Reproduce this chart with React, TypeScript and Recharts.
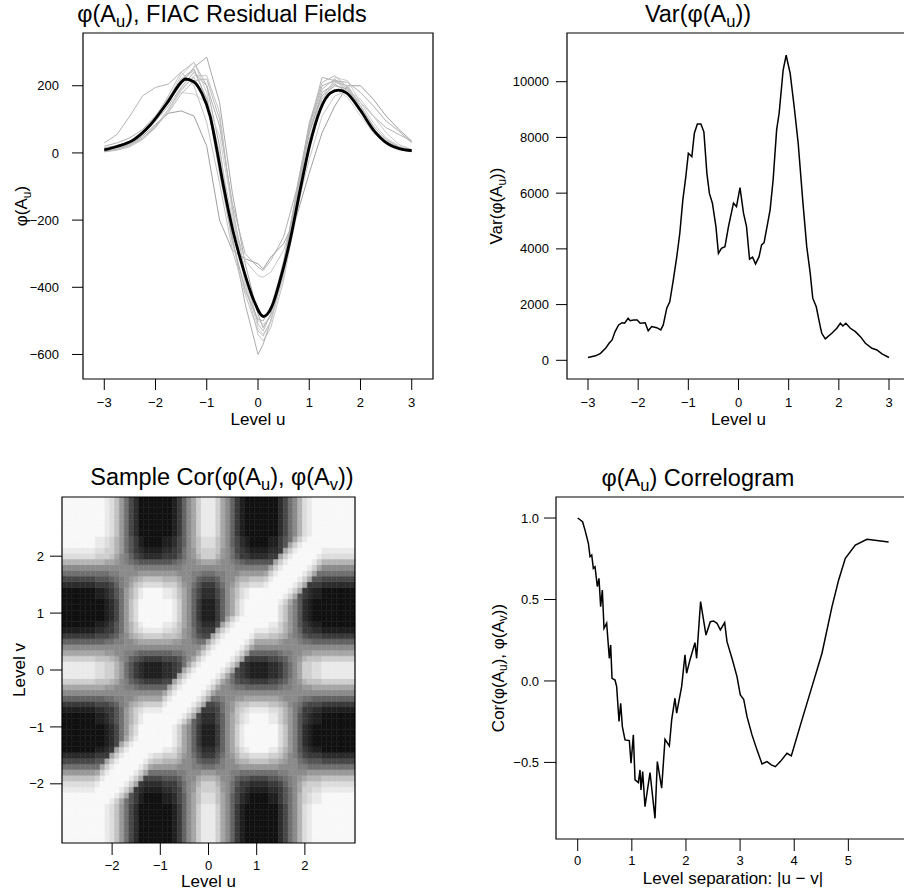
import React from 'react';
import { LineChart, Line, XAxis, YAxis, ReferenceArea } from 'recharts';

const FONT = '"Liberation Sans", Arial, Helvetica, sans-serif';
const MINUS = '\u2212';

const levelGrid = [-3, -2.75, -2.5, -2.25, -2, -1.75, -1.5, -1.25, -1, -0.75, -0.5, -0.25, 0, 0.1, 0.25, 0.5, 0.75, 1, 1.25, 1.5, 1.75, 2, 2.25, 2.5, 2.75, 3];

const residualFields = [
  [15, 22, 35, 60, 100, 150, 205, 255, 285, 150, -120, -330, -480, -520, -480, -330, -120, 60, 170, 200, 190, 140, 80, 40, 18, 8],
  [30, 55, 110, 170, 195, 205, 240, 270, 200, 80, -150, -300, -340, -350, -320, -250, -110, 80, 225, 215, 185, 150, 110, 75, 55, 35],
  [5, 10, 25, 50, 85, 118, 125, 110, 20, -200, -290, -315, -330, -345, -310, -270, -190, -60, 60, 140, 200, 200, 160, 110, 70, 35],
  [3, 8, 18, 40, 75, 125, 185, 230, 230, 120, -180, -390, -540, -560, -520, -380, -170, 40, 170, 215, 200, 140, 75, 30, 10, 3],
  [10, 18, 30, 55, 95, 140, 195, 240, 200, 20, -250, -450, -600, -570, -500, -360, -150, 60, 180, 205, 180, 125, 70, 35, 15, 5],
  [8, 15, 28, 55, 100, 160, 230, 270, 180, -40, -270, -400, -500, -510, -490, -370, -190, 10, 150, 225, 215, 150, 90, 45, 20, 10],
  [5, 12, 25, 45, 80, 130, 190, 225, 150, -20, -230, -370, -470, -490, -470, -340, -140, 70, 190, 220, 190, 125, 65, 30, 12, 5],
  [12, 20, 35, 65, 110, 165, 215, 245, 160, 0, -200, -320, -365, -370, -355, -290, -170, -20, 110, 170, 185, 160, 110, 60, 25, 10],
  [6, 14, 30, 60, 105, 150, 180, 175, 150, 50, -170, -380, -520, -540, -505, -360, -160, 30, 150, 190, 165, 110, 60, 28, 12, 4],
  [4, 10, 22, 42, 78, 120, 175, 215, 220, 100, -160, -360, -510, -530, -480, -320, -120, 90, 210, 230, 195, 130, 70, 30, 12, 4],
  [20, 30, 45, 70, 110, 160, 220, 250, 160, -60, -260, -410, -495, -500, -460, -330, -130, 80, 200, 215, 210, 180, 140, 95, 65, 30],
  [10, 18, 35, 60, 105, 170, 240, 200, 90, -90, -290, -420, -530, -545, -500, -350, -170, 20, 160, 210, 200, 140, 80, 40, 18, 8],
];
const fieldGreys = ['#a8a8a8', '#b4b4b4', '#a0a0a0', '#c4c4c4', '#adadad', '#cccccc', '#bdbdbd', '#c8c8c8', '#d2d2d2', '#bababa', '#b0b0b0', '#c2c2c2'];

const meanLevels = [-3, -2.753, -2.428, -2.103, -1.778, -1.453, -1.42, -1.257, -1.095, -0.932, -0.802, -0.672, -0.477, -0.282, -0.087, 0.108, 0.271, 0.433, 0.628, 0.823, 1.018, 1.213, 1.408, 1.571, 1.733, 1.993, 2.254, 2.514, 2.774, 3];
const meanValues = [9, 19, 39, 83, 148, 217, 220, 212, 177, 108, 9, -100, -239, -348, -437, -487, -457, -378, -259, -110, 29, 128, 178, 187, 178, 128, 68, 29, 12, 7];

// ---- top right: variance of phi(A_u)
const varLevels = [-3, -2.85, -2.75, -2.65, -2.58, -2.52, -2.46, -2.39, -2.32, -2.27, -2.2, -2.16, -2.09, -2.02, -1.96, -1.86, -1.8, -1.73, -1.63, -1.55, -1.5, -1.43, -1.37, -1.3, -1.23, -1.17, -1.11, -1.05, -1, -0.93, -0.88, -0.82, -0.75, -0.69, -0.63, -0.58, -0.52, -0.45, -0.4, -0.34, -0.27, -0.2, -0.1, -0.04, 0.03, 0.1, 0.16, 0.22, 0.28, 0.34, 0.41, 0.46, 0.51, 0.63, 0.69, 0.76, 0.81, 0.89, 0.95, 1.03, 1.11, 1.19, 1.28, 1.36, 1.43, 1.48, 1.55, 1.63, 1.66, 1.73, 1.86, 1.96, 2.03, 2.08, 2.14, 2.23, 2.33, 2.43, 2.53, 2.66, 2.76, 2.86, 3];
const varValues = [100, 160, 250, 430, 610, 730, 1030, 1270, 1350, 1330, 1510, 1420, 1450, 1450, 1330, 1350, 1060, 1210, 1170, 1090, 1270, 1870, 2100, 2880, 3720, 4560, 5750, 6590, 7430, 7310, 8150, 8480, 8480, 8200, 6710, 5990, 5640, 4800, 3840, 4020, 4080, 4800, 5640, 5520, 6200, 5280, 4800, 3630, 3700, 3460, 3720, 4140, 4220, 5400, 6470, 8270, 8870, 10420, 10950, 10300, 9100, 7790, 5750, 4080, 3120, 2230, 1920, 1210, 970, 770, 970, 1150, 1330, 1230, 1330, 1150, 1030, 850, 610, 430, 370, 230, 100];

// ---- bottom left: sample correlation, one string per level v (bottom row first), one letter per level u
const cellLevels = [-3, -2.9, -2.8, -2.7, -2.6, -2.5, -2.4, -2.3, -2.2, -2.1, -2, -1.9, -1.8, -1.7, -1.6, -1.5, -1.4, -1.3, -1.2, -1.1, -1, -0.9, -0.8, -0.7, -0.6, -0.5, -0.4, -0.3, -0.2, -0.1, 0, 0.1, 0.2, 0.3, 0.4, 0.5, 0.6, 0.7, 0.8, 0.9, 1, 1.1, 1.2, 1.3, 1.4, 1.5, 1.6, 1.7, 1.8, 1.9, 2, 2.1, 2.2, 2.3, 2.4, 2.5, 2.6, 2.7, 2.8, 2.9, 3];
const CODE = 'ABCDEFGHIJKLMNOPQRSTU'; // A = -1.0, K = 0.0, U = 1.0
const corGrid = [
  'UUUUUUUTTSRPMIFDBAAAABBCEHKNQSSSQNKHECBAAAABBDFILORSTTUUUUUUU',
  'UUUUUUUTTSRPMIFDBAAAABBCEHKNQSSSQNKHECBAAAABBDFILORSTTUUUUUUU',
  'UUUUUUUTTSRPMIFDBAAAABBCEHKNQSSSQNKHECBAAAABBDFILORSTTUUUUUUU',
  'UUUUUUUTTSRPMIFDBAAAABBCEHKNQSSSQNKHECBAAAABBDFILORSTTUUUUUUU',
  'UUUUUUUTTSRPMIFDBAAAABBCEHKNQSSSQNKHECBAAAABBDFILORSTTUUUUUUU',
  'UUUUUUUTTSRPMIFDBAAAABBCEHKNQSSSQNKHECBAAAABBDFILORSTTUUUUUUU',
  'UUUUUUUUTSRPMIFDBAAAABBCEHKNQSSSQNKHECBAAAABBDFILORSTTUUUUUUU',
  'TTTTTTUUUTSQNIGECBBBBCCDFHKNPRRRPNKHFDCBBBBCCEGILOQRSSTTTTTTT',
  'TTTTTTTUUUTSQNGECBBBBCCDFHKNPRRRPNKHFDCBBBBCCEGILOQRSSTTTTTTT',
  'SSSSSSSTUUUTSQNEDCCCCDDEFIKMPQQQPMKIFEDCCCCDDEGILNQQRRSSSSSSS',
  'RRRRRRRSTUUUTSQNEDDDDEEEGIKMOQQQOMKIGEEDDDDEEFHJLNPQQQRRRRRRR',
  'PPPPPPPQSTUUUTSQNFFFFGGGHJKLNOOONLKJHGGFFFFGGHIJKMNOOOPPPPPPP',
  'MMMMMMMNQSTUUUTSQNIIIIIIJJKLLMMMLLKJJIIIIIIIIJJKKLLMMMMMMMMMM',
  'IIIIIIIINQSTUUUTSQNMMMMMLLKJJIIIJJKLLMMMMMMMMLLKKJJIIIIIIIIII',
  'FFFFFFFGGNQSTUUUTSQPPOOONLKJHGGGHJKLNOOPPPPOONMLKIHGGGFFFFFFF',
  'DDDDDDDEEENQSTUUUTSRRQQQOMKIGEEEGIKMOQQRRRRQQPNLJHFEEEDDDDDDD',
  'BBBBBBBCCDENQSTUUUTTTSSRPNKHFDDDFHKNPRSTTTTSSQOMJGEDCCBBBBBBB',
  'AAAAAAABBCDFNQSTUUUUUTTSQNKHECCCEHKNQSTUUUUTTRPMJGDCBBAAAAAAA',
  'AAAAAAABBCDFINQSTUUUUTTSQNKHECCCEHKNQSTUUUUTTRPMJGDCBBAAAAAAA',
  'AAAAAAABBCDFIMPRTUUUUTTSQNKHECCCEHKNQSTUUUUTTRPMJGDCBBAAAAAAA',
  'AAAAAAABBCDFIMPRTUUUUUTSQNKHECCCEHKNQSTUUUUTTRPMJGDCBBAAAAAAA',
  'BBBBBBBCCDEGIMOQSTTTUUUTSQNHFDDDFHKNPRSTTTTSSQOMJGEDCCBBBBBBB',
  'BBBBBBBCCDEGIMOQSTTTTUUUTSQNFDDDFHKNPRSTTTTSSQOMJGEDCCBBBBBBB',
  'CCCCCCCDDEEGIMOQRSSSSTUUUTSQNEEEFIKMPQRSSSSRRQOMJHEEDDCCCCCCC',
  'EEEEEEEFFFGHJLNOPQQQQSTUUUTSQNFFGIKMOPPQQQQPPONLJIGFFFEEEEEEE',
  'HHHHHHHHHIIJJLLMNNNNNQSTUUUTSQNIIJKLMMNNNNNNNMLLKJIIHHHHHHHHH',
  'KKKKKKKKKKKKKKKKKKKKKNQSTUUUTSQNKKKKKKKKKKKKKKKKKKKKKKKKKKKKK',
  'NNNNNNNNNMMLLJJIHHHHHHNQSTUUUTSQNLKJIIHHHHHHHIJJKLMMNNNNNNNNN',
  'QQQQQQQPPPONLJHGFEEEEFFNQSTUUUTSQNKIGFFEEEEFFGHJLMOPPPQQQQQQQ',
  'SSSSSSSRRQQOMIGEDCCCCDDENQSTUUUTSQNIFEDCCCCDDEGILNQQRRSSSSSSS',
  'SSSSSSSRRQQOMIGEDCCCCDDEFNQSTUUUTSQNFEDCCCCDDEGILNQQRRSSSSSSS',
  'SSSSSSSRRQQOMIGEDCCCCDDEFINQSTUUUTSQNEDCCCCDDEGILNQQRRSSSSSSS',
  'QQQQQQQPPPONLJHGFEEEEFFFGIKNQSTUUUTSQNFEEEEFFGHJLMOPPPQQQQQQQ',
  'NNNNNNNNNMMLLJJIHHHHHHHIIJKLNQSTUUUTSQNHHHHHHIJJKLMMNNNNNNNNN',
  'KKKKKKKKKKKKKKKKKKKKKKKKKKKKKNQSTUUUTSQNKKKKKKKKKKKKKKKKKKKKK',
  'HHHHHHHHHIIJJLLMNNNNNNNMMLKJIINQSTUUUTSQNNNNNMLLKJIIHHHHHHHHH',
  'EEEEEEEFFFGHJLNOPQQQQPPPOMKIGFFNQSTUUUTSQQQPPONLJIGFFFEEEEEEE',
  'CCCCCCCDDEEGIMOQRSSSSRRQPMKIFEEENQSTUUUTSSSRRQOMJHEEDDCCCCCCC',
  'BBBBBBBCCDEGIMOQSTTTTSSRPNKHFDDDFNQSTUUUTTTSSQOMJGEDCCBBBBBBB',
  'AAAAAAABBCDFIMPRTUUUUTTSQNKHECCCEHNQSTUUUUUTTRPMJGDCBBAAAAAAA',
  'AAAAAAABBCDFIMPRTUUUUTTSQNKHECCCEHKNQSTUUUUTTRPMJGDCBBAAAAAAA',
  'AAAAAAABBCDFIMPRTUUUUTTSQNKHECCCEHKNQSTUUUUTTRPMJGDCBBAAAAAAA',
  'AAAAAAABBCDFIMPRTUUUUTTSQNKHECCCEHKNQSTUUUUUTSQNJGDCBBAAAAAAA',
  'BBBBBBBCCDEGIMOQSTTTTSSRPNKHFDDDFHKNPRSTTTUUUTSQNGEDCCBBBBBBB',
  'BBBBBBBCCDEGIMOQSTTTTSSRPNKHFDDDFHKNPRSTTTTUUUTSQNEDCCBBBBBBB',
  'DDDDDDDEEEFHJLNPQRRRRQQQOMKIGEEEGIKMOQQRRRSTUUUTSQNEEEDDDDDDD',
  'FFFFFFFGGGHIJLMNOPPPPOOONLKJHGGGHJKLNOOPPPQSTUUUTSQNGGFFFFFFF',
  'IIIIIIIIIIJJKKLLMMMMMMMMLLKJJIIIJJKLLMMMMMNQSTUUUTSQNIIIIIIII',
  'LLLLLLLLLLLKKKKJJJJJJJJJJKKKLLLLLKKKJJJJJJJNQSTUUUTSQNLLLLLLL',
  'OOOOOOOOONNMLJIHGGGGGGGHIJKLMNNNMLKJIHGGGGGGNQSTUUUTSQOOOOOOO',
  'RRRRRRRQQQPNLJHFEDDDDEEEGIKMOQQQOMKIGEEDDDDEENQSTUUUTSRRRRRRR',
  'SSSSSSSRRQQOMIGEDCCCCDDEFIKMPQQQPMKIFEDCCCCDDENQSTUUUTSSSSSSS',
  'TTTTTTTSSRQOMIGECBBBBCCDFHKNPRRRPNKHFDCBBBBCCEGNQSTUUUTTTTTTT',
  'TTTTTTTSSRQOMIGECBBBBCCDFHKNPRRRPNKHFDCBBBBCCEGINQSTUUUTTTTTT',
  'UUUUUUUTTSRPMIFDBAAAABBCEHKNQSSSQNKHECBAAAABBDFILORSTUUUUUUUU',
  'UUUUUUUTTSRPMIFDBAAAABBCEHKNQSSSQNKHECBAAAABBDFILORSTTUUUUUUU',
  'UUUUUUUTTSRPMIFDBAAAABBCEHKNQSSSQNKHECBAAAABBDFILORSTTUUUUUUU',
  'UUUUUUUTTSRPMIFDBAAAABBCEHKNQSSSQNKHECBAAAABBDFILORSTTUUUUUUU',
  'UUUUUUUTTSRPMIFDBAAAABBCEHKNQSSSQNKHECBAAAABBDFILORSTTUUUUUUU',
  'UUUUUUUTTSRPMIFDBAAAABBCEHKNQSSSQNKHECBAAAABBDFILORSTTUUUUUUU',
  'UUUUUUUTTSRPMIFDBAAAABBCEHKNQSSSQNKHECBAAAABBDFILORSTTUUUUUUU',
];
const colorBarTicks = [-1, -0.5, 0, 0.5, 1];

// ---- bottom right: correlogram
const lagValues = [0, 0.09, 0.135, 0.197, 0.228, 0.259, 0.289, 0.32, 0.363, 0.393, 0.424, 0.455, 0.486, 0.535, 0.584, 0.609, 0.634, 0.689, 0.72, 0.763, 0.794, 0.825, 0.874, 0.954, 0.985, 1.028, 1.059, 1.12, 1.151, 1.169, 1.2, 1.243, 1.336, 1.428, 1.471, 1.551, 1.613, 1.693, 1.736, 1.797, 1.828, 1.92, 1.982, 2.012, 2.074, 2.166, 2.197, 2.27, 2.37, 2.45, 2.51, 2.573, 2.635, 2.715, 2.758, 2.85, 2.943, 3.004, 3.066, 3.128, 3.22, 3.312, 3.405, 3.497, 3.577, 3.651, 3.743, 3.866, 3.946, 4.143, 4.328, 4.513, 4.698, 4.821, 4.944, 5.129, 5.344, 5.744];
const corValues = [1, 0.977, 0.926, 0.845, 0.763, 0.773, 0.691, 0.701, 0.579, 0.63, 0.456, 0.558, 0.323, 0.354, 0.139, 0.221, 0.016, 0.006, -0.035, -0.249, -0.137, -0.28, -0.362, -0.366, -0.505, -0.331, -0.607, -0.624, -0.546, -0.669, -0.556, -0.771, -0.562, -0.843, -0.495, -0.658, -0.358, -0.399, -0.239, -0.106, -0.198, -0.035, 0.16, 0.047, 0.129, 0.235, 0.139, 0.487, 0.282, 0.364, 0.368, 0.354, 0.313, 0.358, 0.241, 0.139, 0.027, -0.086, -0.112, -0.219, -0.331, -0.423, -0.509, -0.495, -0.515, -0.526, -0.495, -0.444, -0.46, -0.239, -0.035, 0.17, 0.456, 0.62, 0.753, 0.834, 0.869, 0.853];

// ---------------------------------------------------------------------------

const fieldRows = levelGrid.map((u, i) => {
  const row: Record<string, number> = { u };
  residualFields.forEach((f, k) => (row['f' + k] = f[i]));
  return row;
});
const meanRows = meanLevels.map((u, i) => ({ u, m: meanValues[i] }));
const varRows = varLevels.map((u, i) => ({ u, v: varValues[i] }));
const corrRows = lagValues.map((lag, i) => ({ lag, r: corValues[i] }));

const N_LEVELS = 18;
const greyOf = (level: number) => {
  const g = Math.round(17 + (level * (248 - 17)) / (N_LEVELS - 1));
  return `rgb(${g},${g},${g})`;
};
const levelOf = (r: number) => Math.max(0, Math.min(N_LEVELS - 1, Math.floor(((r + 1) / 2) * N_LEVELS + 1e-9)));
const HALF = (cellLevels[1] - cellLevels[0]) / 2;
const heatCells = corGrid.flatMap((row, j) =>
  row.split('').map((ch, i) => ({ u: cellLevels[i], v: cellLevels[j], r: (CODE.indexOf(ch) - 10) / 10 }))
);
const colorBreaks = Array.from({ length: N_LEVELS + 1 }, (_, k) => -1 + (2 * k) / N_LEVELS);

const fmtInt = (v: number) => (v < 0 ? MINUS + Math.abs(v) : String(v));
const fmtDec = (v: number) => (v < 0 ? MINUS + Math.abs(v).toFixed(1) : v.toFixed(1));

const tickStyle = { fill: '#000', fontSize: 13, fontFamily: FONT };
const LABEL_SIZE = 17;

const xLabel = (text: React.ReactNode, dy: number) => (props: any) => {
  const vb = props.viewBox;
  return (
    <text x={vb.x + vb.width / 2} y={vb.y + dy} textAnchor="middle" fontSize={LABEL_SIZE} fontFamily={FONT} fill="#000">
      {text}
    </text>
  );
};

const yLabel = (text: React.ReactNode, dx: number) => (props: any) => {
  const vb = props.viewBox;
  const x = vb.x + dx;
  const y = vb.y + vb.height / 2;
  return (
    <text x={x} y={y} transform={`rotate(-90 ${x} ${y})`} textAnchor="middle" fontSize={LABEL_SIZE} fontFamily={FONT} fill="#000">
      {text}
    </text>
  );
};

const phiA = (s: string, small: number) => (
  <>
    {'φ(A'}
    <tspan dy={small * 0.33} fontSize={small}>{s}</tspan>
    <tspan dy={-small * 0.33}>{')'}</tspan>
  </>
);

export default function App() {
  const tl = { x: [-3.415, 3.415], y: [-673, 357] };
  const tr = { x: [-3.4186, 3.4186], y: [-671, 11748] };
  const bl = { x: [-3.04, 3.04], y: [-3.04, 3.04] };
  const br = { x: [-0.401, 6.139], y: [-0.97, 1.129] };

  return (
    <div style={{ position: 'absolute', left: 0, top: 0, width: 904, height: 894, overflow: 'hidden', background: '#fff', fontFamily: FONT }}>
      {/* top left */}
      <div style={{ position: 'absolute', left: 0, top: 0 }}>
        <LineChart width={452} height={440} data={fieldRows} margin={{ top: 33, right: 19, bottom: 0, left: 0 }}>
          <XAxis type="number" dataKey="u" domain={tl.x} ticks={[-3, -2, -1, 0, 1, 2, 3]} interval={0} allowDataOverflow
            axisLine={false} tickLine={{ stroke: '#000' }} tickSize={11} tickMargin={8} height={61} tick={tickStyle}
            tickFormatter={fmtInt} label={xLabel('Level u', 46)} />
          <YAxis type="number" domain={tl.y} ticks={[-600, -400, -200, 0, 200]} interval={0} allowDataOverflow
            axisLine={false} tickLine={{ stroke: '#000' }} tickSize={11} tickMargin={13} width={83} tick={tickStyle}
            tickFormatter={fmtInt} label={yLabel(<>{phiA('u', 12)}</>, 27)} />
          {residualFields.map((_, k) => (
            <Line key={k} type="linear" dataKey={'f' + k} stroke={fieldGreys[k]} strokeWidth={1} dot={false} isAnimationActive={false} />
          ))}
          <Line data={meanRows} type="monotone" dataKey="m" stroke="#000" strokeWidth={2.8} dot={false} isAnimationActive={false} />
          <ReferenceArea x1={tl.x[0]} x2={tl.x[1]} y1={tl.y[0]} y2={tl.y[1]} fill="none" stroke="#000" strokeWidth={1.2} ifOverflow="visible" />
        </LineChart>
      </div>

      {/* top right */}
      <div style={{ position: 'absolute', left: 452, top: 0 }}>
        <LineChart width={460} height={440} data={varRows} margin={{ top: 33, right: 2, bottom: 0, left: 0 }}>
          <XAxis type="number" dataKey="u" domain={tr.x} ticks={[-3, -2, -1, 0, 1, 2, 3]} interval={0} allowDataOverflow
            axisLine={false} tickLine={{ stroke: '#000' }} tickSize={11} tickMargin={8} height={61} tick={tickStyle}
            tickFormatter={fmtInt} label={xLabel('Level u', 46)} />
          <YAxis type="number" domain={tr.y} ticks={[0, 2000, 4000, 6000, 8000, 10000]} interval={0} allowDataOverflow
            axisLine={false} tickLine={{ stroke: '#000' }} tickSize={11} tickMargin={7} width={115} tick={tickStyle}
            tickFormatter={fmtInt} label={yLabel(<>{'Var('}{phiA('u', 12)}{')'}</>, 50)} />
          <Line type="linear" dataKey="v" stroke="#000" strokeWidth={1.5} dot={false} isAnimationActive={false} />
          <ReferenceArea x1={tr.x[0]} x2={tr.x[1]} y1={tr.y[0]} y2={tr.y[1]} fill="none" stroke="#000" strokeWidth={1.2} ifOverflow="visible" />
        </LineChart>
      </div>

      {/* bottom left: heat map */}
      <div style={{ position: 'absolute', left: 0, top: 440 }}>
        <LineChart width={360} height={454} margin={{ top: 57, right: 5, bottom: 0, left: 0 }}>
          <XAxis type="number" dataKey="u" domain={bl.x} ticks={[-2, -1, 0, 1, 2]} interval={0} allowDataOverflow
            axisLine={false} tickLine={{ stroke: '#000' }} tickSize={12} tickMargin={6} height={51} tick={tickStyle}
            tickFormatter={fmtInt} label={xLabel('Level u', 44)} />
          <YAxis type="number" domain={bl.y} ticks={[-2, -1, 0, 1, 2]} interval={0} allowDataOverflow
            axisLine={false} tickLine={{ stroke: '#000' }} tickSize={12} tickMargin={6} width={62} tick={tickStyle}
            tickFormatter={fmtInt} label={yLabel('Level v', 25)} />
          {heatCells.map((c, k) => {
            const col = greyOf(levelOf(c.r));
            return (
              <ReferenceArea key={k} x1={c.u - HALF} x2={c.u + HALF} y1={c.v - HALF} y2={c.v + HALF}
                fill={col} fillOpacity={1} stroke={col} strokeWidth={0.5} ifOverflow="hidden" />
            );
          })}
          <ReferenceArea x1={bl.x[0]} x2={bl.x[1]} y1={bl.y[0]} y2={bl.y[1]} fill="none" stroke="#000" strokeWidth={1.2} ifOverflow="visible" />
        </LineChart>
      </div>

      {/* colour bar */}
      <div style={{ position: 'absolute', left: 355, top: 440 }}>
        <LineChart width={100} height={454} margin={{ top: 57, right: 0, bottom: 51, left: 0 }}>
          <XAxis type="number" domain={[0, 1]} hide />
          <YAxis type="number" orientation="right" domain={[-1, 1]} ticks={colorBarTicks} interval={0}
            axisLine={false} tickLine={{ stroke: '#000' }} tickSize={8} tickMargin={9} width={65.7} tick={tickStyle}
            tickFormatter={fmtDec} />
          {colorBreaks.slice(0, -1).map((b, k) => (
            <ReferenceArea key={k} x1={0} x2={1} y1={b} y2={colorBreaks[k + 1]} fill={greyOf(k)} fillOpacity={1}
              stroke={greyOf(k)} strokeWidth={0.5} ifOverflow="visible" />
          ))}
          <ReferenceArea x1={0} x2={1} y1={-1} y2={1} fill="none" stroke="#000" strokeWidth={1.2} ifOverflow="visible" />
        </LineChart>
      </div>

      {/* bottom right */}
      <div style={{ position: 'absolute', left: 452, top: 440 }}>
        <LineChart width={460} height={454} data={corrRows} margin={{ top: 57, right: 2, bottom: 0, left: 0 }}>
          <XAxis type="number" dataKey="lag" domain={br.x} ticks={[0, 1, 2, 3, 4, 5]} interval={0} allowDataOverflow
            axisLine={false} tickLine={{ stroke: '#000' }} tickSize={12} tickMargin={5} height={55} tick={tickStyle}
            tickFormatter={fmtInt} label={xLabel('Level separation: |u ' + MINUS + ' v|', 45)} />
          <YAxis type="number" domain={br.y} ticks={[-0.5, 0, 0.5, 1]} interval={0} allowDataOverflow
            axisLine={false} tickLine={{ stroke: '#000' }} tickSize={12} tickMargin={5} width={104} tick={tickStyle}
            tickFormatter={fmtDec}
            label={yLabel(<>{'Cor('}{phiA('u', 12)}{', '}{phiA('v', 12)}{')'}</>, 51.5)} />
          <Line type="linear" dataKey="r" stroke="#000" strokeWidth={1.5} dot={false} isAnimationActive={false} />
          <ReferenceArea x1={br.x[0]} x2={br.x[1]} y1={br.y[0]} y2={br.y[1]} fill="none" stroke="#000" strokeWidth={1.2} ifOverflow="visible" />
        </LineChart>
      </div>

      {/* titles */}
      <svg width={904} height={894} style={{ position: 'absolute', left: 0, top: 0, pointerEvents: 'none' }}>
        <g fontFamily={FONT} fontSize={23.5} fill="#000" textAnchor="middle">
          <text x={222} y={22}>{phiA('u', 16.5)}{', FIAC Residual Fields'}</text>
          <text x={698} y={22}>{'Var('}{phiA('u', 16.5)}{')'}</text>
          <text x={222} y={485}>{'Sample Cor('}{phiA('u', 16.5)}{', '}{phiA('v', 16.5)}{')'}</text>
          <text x={698} y={486}>{phiA('u', 16.5)}{' Correlogram'}</text>
        </g>
      </svg>
    </div>
  );
}
